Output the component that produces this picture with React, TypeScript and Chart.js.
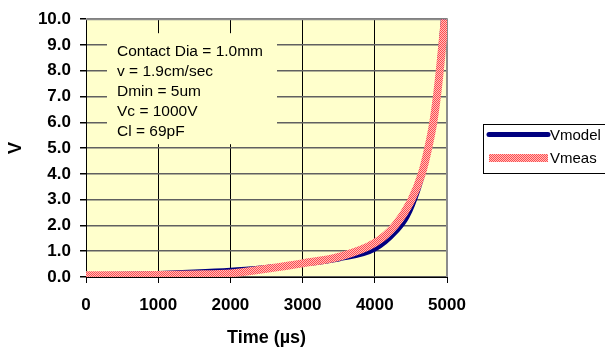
import React, { useEffect, useRef } from "react";
import { Chart, registerables } from "chart.js";

Chart.register(...registerables);

// Modelled discharge voltage vs. time
const modelTime = [0, 500, 1000, 1500, 2000, 2500, 3000, 3500, 4000, 4300, 4450, 4600, 4700, 4760, 4820, 4860, 4890, 4920, 4950];
const modelVolts = [0.09, 0.11, 0.14, 0.19, 0.26, 0.37, 0.5, 0.7, 1.08, 1.78, 2.35, 3.4, 4.4, 5.2, 6.2, 7.0, 8.0, 9.0, 10.0];

// Measured voltage vs. time
const measTime = [0, 500, 1000, 1500, 2000, 2500, 3000, 3500, 4000, 4280, 4500, 4650, 4740, 4810, 4860, 4900, 4935, 4970];
const measVolts = [0.07, 0.07, 0.08, 0.1, 0.14, 0.32, 0.53, 0.78, 1.32, 2.0, 2.95, 4.0, 5.0, 6.0, 7.0, 8.0, 9.0, 10.0];

const seriesLabels = ["Vmodel", "Vmeas"];
const xAxisTitle = "Time (\u00b5s)";
const yAxisTitle = "V";

// Test conditions shown in the note box
const noteLines = ["Contact Dia = 1.0mm", "v = 1.9cm/sec", "Dmin = 5um", "Vc = 1000V", "Cl = 69pF"];

const FONT = "'Liberation Sans', Arial, Helvetica, sans-serif";
const PLOT_BG = "#ffffcc";

const decorations = {
  id: "decorations",
  beforeDraw(chart: any) {
    const { ctx, chartArea: a } = chart;
    ctx.save();
    ctx.fillStyle = "#ffffff";
    ctx.fillRect(0, 0, chart.width, chart.height);
    ctx.fillStyle = PLOT_BG;
    ctx.fillRect(a.left, a.top, a.right - a.left, a.bottom - a.top);
    ctx.restore();
  },
  beforeDatasetsDraw(chart: any) {
    const { ctx, chartArea: a } = chart;
    ctx.save();
    // grey frame on top and right of the plot
    ctx.strokeStyle = "#8c8c8c";
    ctx.lineWidth = 2;
    ctx.beginPath();
    ctx.moveTo(a.left, a.top);
    ctx.lineTo(a.right, a.top);
    ctx.lineTo(a.right, a.bottom);
    ctx.stroke();

    // note box
    const bx = a.left + 21;
    const by = a.top + 14;
    ctx.fillStyle = PLOT_BG;
    ctx.fillRect(bx, by, 170, 111);
    ctx.fillStyle = "#000";
    ctx.font = `15.5px ${FONT}`;
    ctx.textAlign = "left";
    ctx.textBaseline = "middle";
    noteLines.forEach((line, i) => {
      ctx.fillText(line, bx + 10, by + 19 + i * 19.8);
    });
    ctx.restore();
  },
  afterDraw(chart: any) {
    const { ctx, chartArea: a } = chart;
    const lx = a.right + 36;
    const ly = 124;
    ctx.save();
    ctx.strokeStyle = "#000";
    ctx.lineWidth = 1;
    ctx.strokeRect(lx + 0.5, ly + 0.5, 122, 49);
    ctx.font = `15px ${FONT}`;
    ctx.textAlign = "left";
    ctx.textBaseline = "middle";
    chart.data.datasets.forEach((ds: any, i: number) => {
      const y = ly + 10.5 + i * 23.5;
      ctx.strokeStyle = ds.borderColor;
      ctx.lineWidth = ds.borderWidth;
      ctx.lineCap = i === 0 ? "round" : "butt";
      ctx.beginPath();
      ctx.moveTo(lx + 6, y);
      ctx.lineTo(lx + 65, y);
      ctx.stroke();
      ctx.fillStyle = "#000";
      ctx.fillText(ds.label, lx + 67, y + 1);
    });
    ctx.restore();
  },
};

export default function App() {
  const ref = useRef<HTMLCanvasElement>(null);

  useEffect(() => {
    const canvas = ref.current!;
    // dotted red/pink stroke for the measured trace
    const tile = document.createElement("canvas");
    tile.width = 2;
    tile.height = 2;
    const tctx = tile.getContext("2d")!;
    tctx.fillStyle = "#ffbdbd";
    tctx.fillRect(0, 0, 2, 2);
    tctx.fillStyle = "#ff4d4d";
    tctx.fillRect(0, 0, 1, 1);
    tctx.fillRect(1, 1, 1, 1);
    const measPattern = canvas.getContext("2d")!.createPattern(tile, "repeat");

    const chart = new Chart(canvas, {
      type: "line",
      data: {
        datasets: [
          {
            label: seriesLabels[0],
            data: modelTime.map((t, i) => ({ x: t, y: modelVolts[i] })),
            borderColor: "#000080",
            backgroundColor: "#000080",
            borderWidth: 5,
            pointRadius: 0,
            cubicInterpolationMode: "monotone",
            order: 1,
          },
          {
            label: seriesLabels[1],
            data: measTime.map((t, i) => ({ x: t, y: measVolts[i] })),
            borderColor: measPattern as any,
            backgroundColor: measPattern as any,
            borderWidth: 8,
            pointRadius: 0,
            cubicInterpolationMode: "monotone",
            order: 0,
          },
        ],
      },
      options: {
        responsive: false,
        devicePixelRatio: 1,
        animation: false,
        events: [],
        layout: { padding: { top: 16, right: 158, left: 0, bottom: 0 } },
        plugins: {
          legend: { display: false },
          tooltip: { enabled: false },
        },
        scales: {
          x: {
            type: "linear",
            min: 0,
            max: 5000,
            afterFit: (s: any) => {
              s.height = 73;
            },
            ticks: {
              stepSize: 1000,
              maxRotation: 0,
              color: "#000",
              padding: 12,
              font: { family: FONT, size: 17, weight: "bold" },
              callback: (v: any) => String(Math.round(Number(v))),
            },
            grid: { color: "#000", lineWidth: 1, tickLength: 6, tickColor: "#000" },
            border: { color: "#000", width: 1 },
            title: {
              display: true,
              text: xAxisTitle,
              color: "#000",
              font: { family: FONT, size: 18, weight: "bold" },
              padding: { top: 0, bottom: 1 },
            },
          },
          y: {
            type: "linear",
            min: 0,
            max: 10,
            afterFit: (s: any) => {
              s.width = 86;
            },
            ticks: {
              stepSize: 1,
              color: "#000",
              padding: 9,
              font: { family: FONT, size: 17, weight: "bold" },
              callback: (v: any) => Number(v).toFixed(1),
            },
            grid: { color: "#606060", lineWidth: 1.5, tickLength: 6, tickColor: "#000" },
            border: { color: "#000", width: 1 },
            title: {
              display: true,
              text: yAxisTitle,
              color: "#000",
              font: { family: FONT, size: 18, weight: "bold" },
              padding: { top: 5, bottom: 0 },
            },
          },
        },
      },
      plugins: [decorations],
    });
    return () => chart.destroy();
  }, []);

  return (
    <div style={{ position: "fixed", left: 0, top: 0, width: 605, height: 350, background: "#fff" }}>
      <canvas ref={ref} width={605} height={350} style={{ display: "block", width: 605, height: 350 }} />
    </div>
  );
}
